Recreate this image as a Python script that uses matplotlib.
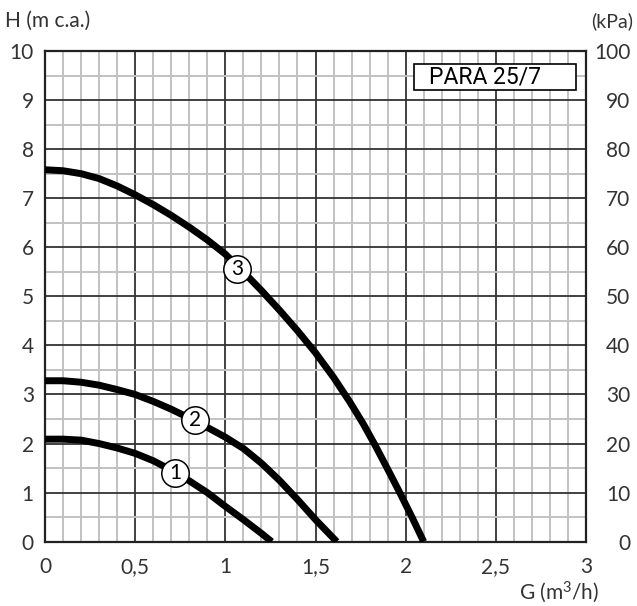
import matplotlib
matplotlib.use("Agg")
import matplotlib.pyplot as plt
from matplotlib.patches import Rectangle
from matplotlib.ticker import MultipleLocator

# pump curves (G in m3/h, H in m c.a.)
g1 = [0.0, 0.1, 0.2, 0.3, 0.4, 0.5, 0.6, 0.7, 0.8, 0.9, 1.0, 1.1, 1.2, 1.257]
h1 = [2.09, 2.09, 2.07, 2.0, 1.91, 1.80, 1.65, 1.46, 1.24, 1.0, 0.72, 0.45, 0.17, 0.0]

g2 = [0.0, 0.1, 0.2, 0.3, 0.4, 0.5, 0.6, 0.7, 0.8, 0.9, 1.0, 1.1, 1.2, 1.3, 1.4, 1.5, 1.618]
h2 = [3.28, 3.28, 3.25, 3.19, 3.10, 3.0, 2.86, 2.70, 2.52, 2.33, 2.13, 1.90, 1.60, 1.25, 0.86, 0.45, 0.0]

g3 = [0.0, 0.1, 0.2, 0.3, 0.4, 0.5, 0.6, 0.7, 0.8, 0.9, 1.0, 1.1, 1.2, 1.3, 1.4,
      1.5, 1.6, 1.69, 1.765, 1.83, 1.9, 1.97, 2.035, 2.10]
h3 = [7.58, 7.56, 7.50, 7.40, 7.25, 7.07, 6.87, 6.65, 6.41, 6.15, 5.86, 5.50, 5.12, 4.72, 4.30,
      3.85, 3.35, 2.85, 2.40, 1.97, 1.48, 0.98, 0.5, 0.0]

curve_names = ["1", "2", "3"]
label_g = [0.721, 0.832, 1.067]
label_h = [1.39, 2.48, 5.55]

x_ticks = [0, 0.5, 1, 1.5, 2, 2.5, 3]
x_labels = ["0", "0,5", "1", "1,5", "2", "2,5", "3"]
y_ticks = list(range(0, 11))
kpa_ticks = list(range(0, 101, 10))

model = "PARA 25/7"

plt.rcParams["font.family"] = ["Lato", "DejaVu Sans"]
plt.rcParams["mathtext.fontset"] = "custom"
plt.rcParams["mathtext.rm"] = "Lato"

fig = plt.figure(figsize=(6.37, 6.06), dpi=100)
ax = fig.add_axes([45 / 637, 64.3 / 606, 541 / 637, 490.7 / 606])

ax.set_xlim(0, 3)
ax.set_ylim(0, 10)

# grid
ax.xaxis.set_minor_locator(MultipleLocator(0.1))
ax.yaxis.set_minor_locator(MultipleLocator(0.5))
ax.set_xticks(x_ticks)
ax.set_xticklabels(x_labels)
ax.set_yticks(y_ticks)
ax.grid(which="minor", color="#c2c2c2", lw=1.4, zorder=0)
ax.grid(which="major", color="#333333", lw=1.3, zorder=0.5)
ax.set_axisbelow(True)
for s in ax.spines.values():
    s.set_color("#222222")
    s.set_linewidth(1.6)

ax.tick_params(which="both", length=0)
ax.tick_params(axis="x", labelsize=15, pad=11, colors="#333333")
ax.tick_params(axis="y", labelsize=15, pad=8, colors="#333333")

for g, h in [(g1, h1), (g2, h2), (g3, h3)]:
    ax.plot(g, h, color="black", lw=5, solid_capstyle="butt",
            solid_joinstyle="round", zorder=3)

ax.scatter(label_g, label_h, s=390, facecolor="white", edgecolor="black",
           linewidth=1.1, zorder=4)
for name, g, h in zip(curve_names, label_g, label_h):
    ax.text(g, h, name, ha="center", va="center", fontsize=15, zorder=5)

# right axis in kPa
ax2 = ax.twinx()
ax2.set_ylim(0, 100)
ax2.set_yticks(kpa_ticks)
ax2.tick_params(length=0, labelsize=15, pad=32, colors="#333333")
for lab in ax2.get_yticklabels():
    lab.set_horizontalalignment("right")
for s in ax2.spines.values():
    s.set_visible(False)

# model box
ax.add_patch(Rectangle((0.682, 0.9205), 0.3, 0.053, transform=ax.transAxes,
                       facecolor="white", edgecolor="black", lw=1.2, zorder=6))
ax.text(0.709, 0.946, model, transform=ax.transAxes, ha="left", va="center",
        fontsize=16.5, family=["Roboto", "DejaVu Sans"], zorder=7)

fig.text(5 / 637, 1 - 21 / 606, "H (m c.a.)", ha="left", va="center", fontsize=15, color="#333333")
fig.text(633 / 637, 1 - 21 / 606, "(kPa)", ha="right", va="center", fontsize=14, color="#333333")
fig.text(599 / 637, 1 - 592 / 606, r"G (m$\mathregular{^3}$/h)", ha="right", va="center",
         fontsize=15, color="#333333")

fig.savefig("out.png", dpi=100)
